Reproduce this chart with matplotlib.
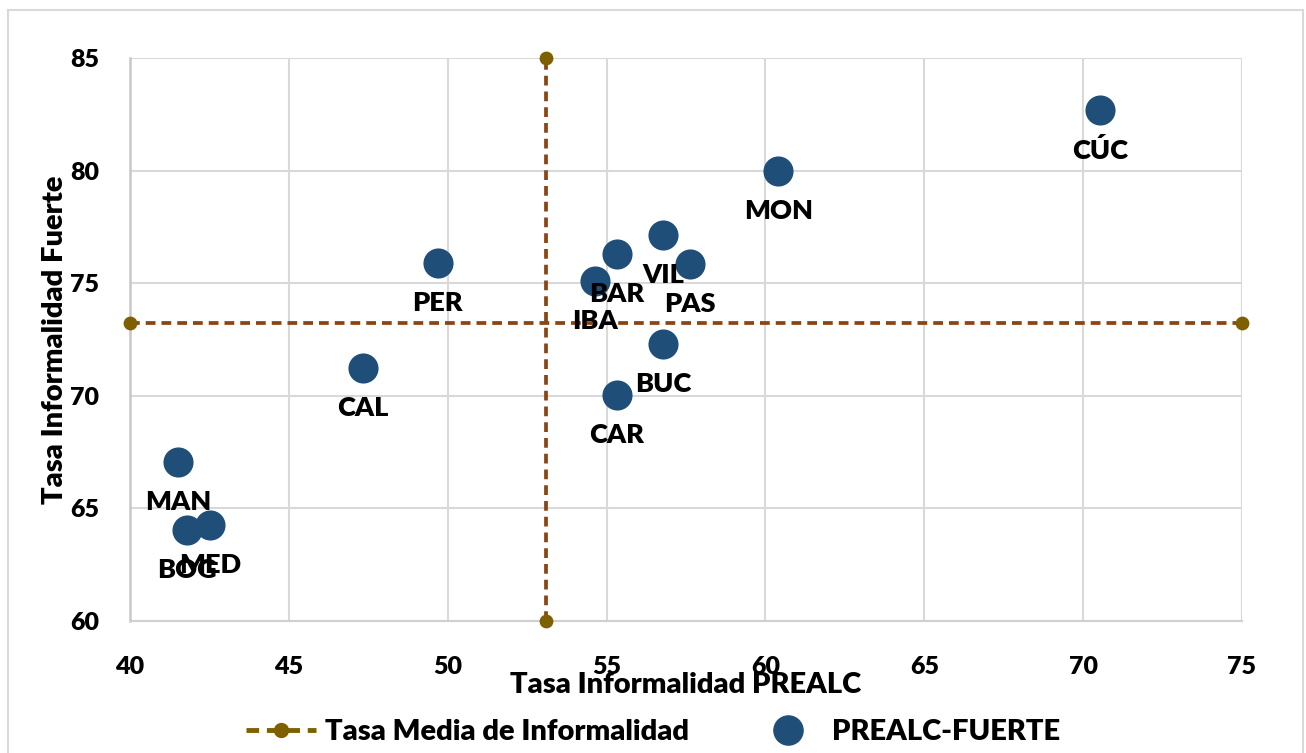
import matplotlib
matplotlib.use("Agg")
import matplotlib.pyplot as plt
from matplotlib.lines import Line2D
from matplotlib.patches import Rectangle

plt.rcParams['font.family'] = ['Lato', 'DejaVu Sans']

# Data
cities = ["CÚC", "MON", "VIL", "PAS", "BAR", "IBA", "BUC", "CAR", "PER", "CAL", "MAN", "BOG", "MED"]
prealc = [70.53, 60.40, 56.78, 57.63, 55.33, 54.64, 56.78, 55.33, 49.69, 47.33, 41.51, 41.79, 42.52]
fuerte = [82.69, 79.98, 77.14, 75.85, 76.30, 75.10, 72.30, 70.04, 75.90, 71.23, 67.06, 64.04, 64.26]
mean_prealc = 53.09
mean_fuerte = 73.23
x_range = [40, 75]
y_range = [60, 85]
x_ticks = [40, 45, 50, 55, 60, 65, 70, 75]
y_ticks = [60, 65, 70, 75, 80, 85]

W = 'heavy'
fig = plt.figure(figsize=(13.06, 7.53), dpi=100)
ax = fig.add_axes([130/1306, 1-621/753, (1242-130)/1306, (621-58)/753])

# outer border
fig.patches.append(Rectangle((8/1306, -0.01), (1303-8)/1306, 1.01-10/753, transform=fig.transFigure,
                             fill=False, edgecolor='#D9D9D9', linewidth=1.5))

ax.set_xlim(*x_range)
ax.set_ylim(*y_range)
ax.set_xticks(x_ticks)
ax.set_yticks(y_ticks)
ax.grid(True, color='#D9D9D9', linewidth=1.5, zorder=0)
for s in ax.spines.values():
    s.set_visible(False)
ax.spines['left'].set_visible(True)
ax.spines['left'].set_color('#C8C8C8')
ax.spines['left'].set_linewidth(1.8)
ax.spines['bottom'].set_visible(True)
ax.spines['bottom'].set_color('#D0D0D0')
ax.spines['bottom'].set_linewidth(1.5)
ax.tick_params(axis='y', length=0, labelsize=18, pad=22)
ax.tick_params(axis='x', length=0, labelsize=18, pad=25)
for lbl in ax.get_xticklabels() + ax.get_yticklabels():
    lbl.set_fontweight(W)

line_color = '#8B4513'
dot_color = '#7F6000'
dash = (0, (2.6, 1.6))
ax.plot(x_range, [mean_fuerte, mean_fuerte], color=line_color, linestyle=dash,
        linewidth=2.7, zorder=2, clip_on=False)
ax.plot([mean_prealc, mean_prealc], y_range, color=line_color, linestyle=dash,
        linewidth=2.7, zorder=2, clip_on=False)
ax.scatter(x_range, [mean_fuerte, mean_fuerte], s=80, color=dot_color, zorder=3, clip_on=False)
ax.scatter([mean_prealc, mean_prealc], y_range, s=80, color=dot_color, zorder=3, clip_on=False)

ax.scatter(prealc, fuerte, s=470, color='#1F4E79', zorder=4, linewidths=0)
for c, x, y in zip(cities, prealc, fuerte):
    ax.annotate(c, (x, y), xytext=(0, -29), textcoords='offset points',
                ha='center', va='center', fontsize=19.5, fontweight=W, zorder=5)

ax.set_xlabel("Tasa Informalidad PREALC", fontsize=21, fontweight=W, labelpad=-4)
ax.set_ylabel("Tasa Informalidad Fuerte", fontsize=21, fontweight=W, labelpad=2)

handles = [
    Line2D([0], [0], color=dot_color, linestyle=dash, linewidth=3.5,
           marker='o', markersize=10, markerfacecolor=dot_color, markeredgecolor=dot_color),
    Line2D([0], [0], linestyle='none', marker='o', markersize=21, color='#1F4E79'),
]
fig.legend(handles, ["Tasa Media de Informalidad", "PREALC-FUERTE"], loc='center',
           bbox_to_anchor=(0.5, 1-732/753), ncol=2, frameon=False,
           prop={'size': 21, 'weight': W}, columnspacing=2.2, handlelength=2.4,
           handletextpad=0.3)

fig.savefig("out.png", dpi=100)
